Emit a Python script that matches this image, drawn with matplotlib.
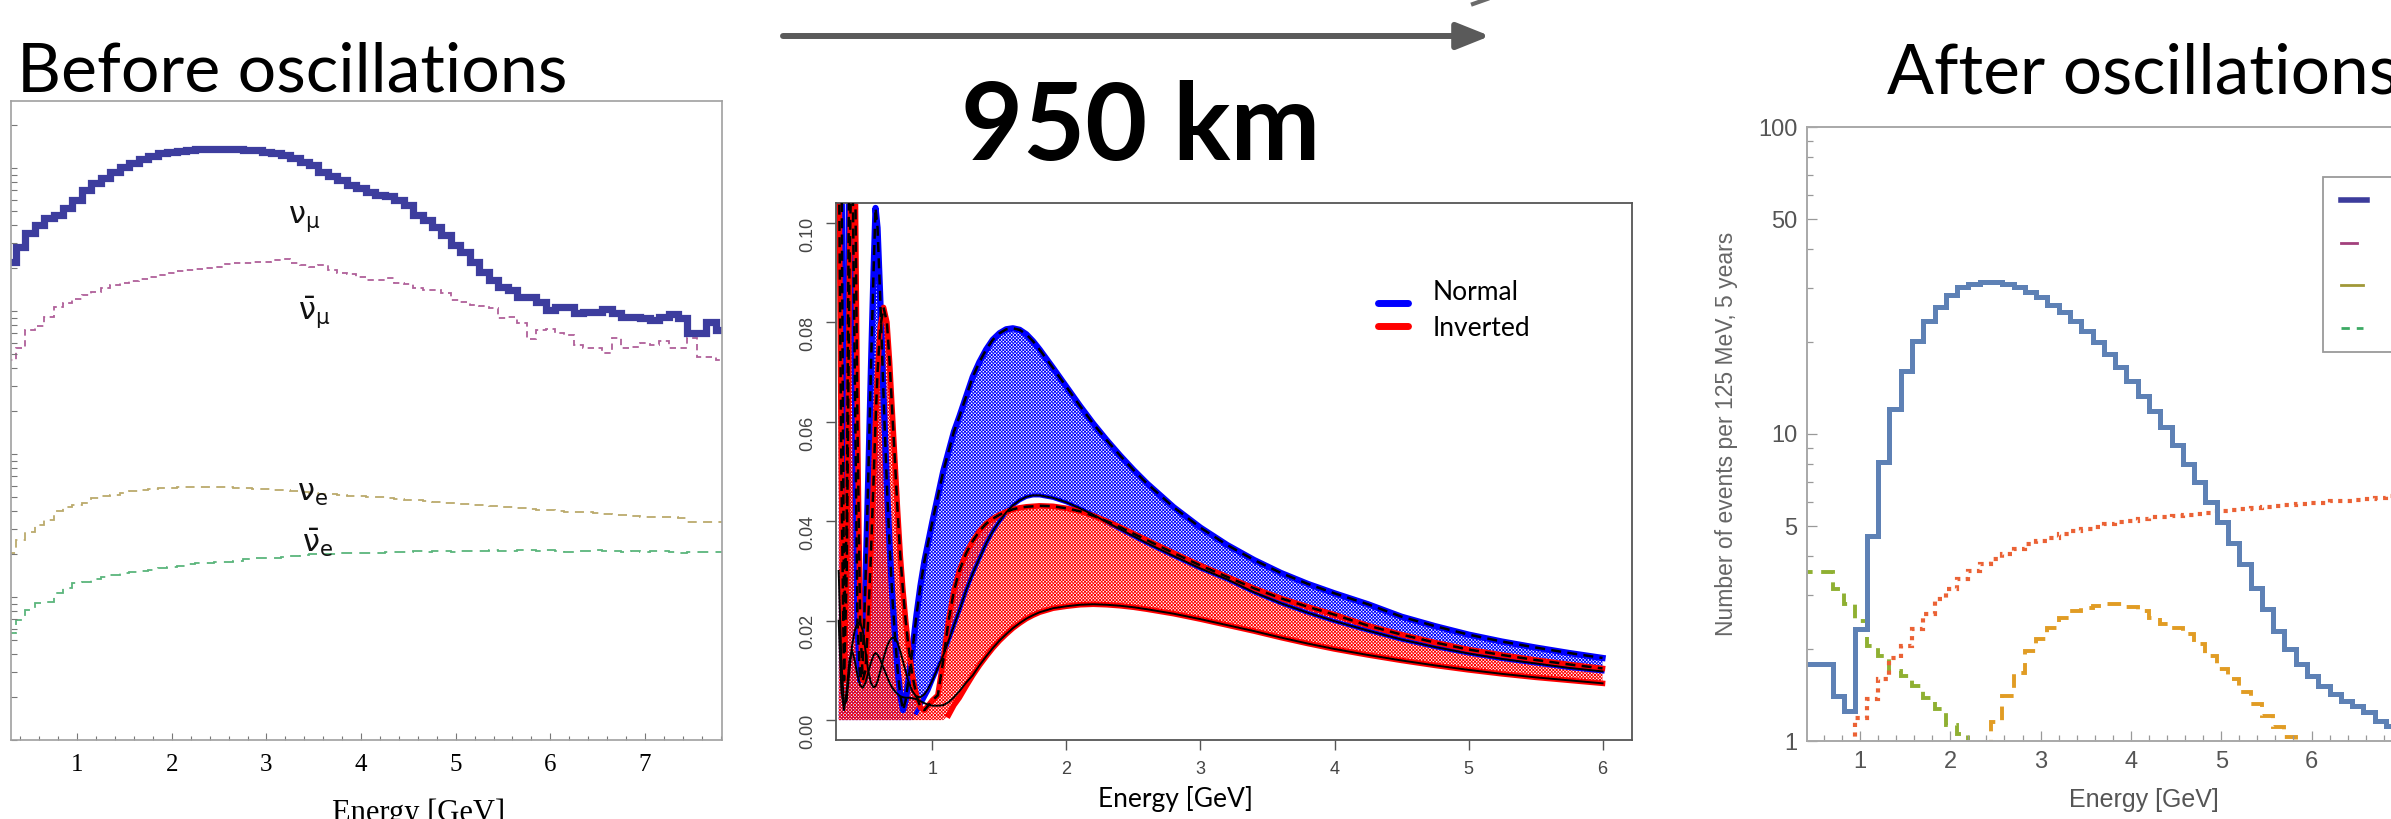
import numpy as np
import matplotlib.pyplot as plt
from matplotlib.lines import Line2D
from matplotlib.patches import Rectangle, FancyArrowPatch
from matplotlib.ticker import MultipleLocator, FixedLocator, NullFormatter, FormatStrFormatter

# ---------------- data ----------------
# left panel: unoscillated flux, log10 of (arbitrary units), bins of 0.1 GeV starting at 0.25
flux_edges_start, flux_bin = 0.25, 0.1
numu_log = [3.343, 3.448, 3.545, 3.601, 3.650, 3.671, 3.720, 3.776, 3.846, 3.895,
            3.930, 3.972, 4.007, 4.035, 4.063, 4.084, 4.105, 4.112, 4.119, 4.126,
            4.133, 4.133, 4.133, 4.133, 4.133, 4.126, 4.126, 4.112, 4.105, 4.091,
            4.070, 4.042, 4.021, 3.972, 3.944, 3.916, 3.881, 3.860, 3.832, 3.811,
            3.804, 3.776, 3.741, 3.671, 3.636, 3.587, 3.531, 3.462, 3.413, 3.343,
            3.273, 3.217, 3.168, 3.147, 3.098, 3.098, 3.063, 3.007, 3.028, 3.028,
            2.986, 2.993, 2.993, 3.014, 2.986, 2.958, 2.958, 2.951, 2.937, 2.958,
            2.979, 2.951, 2.846, 2.846, 2.923, 2.867]
numubar_log = [2.657, 2.741, 2.867, 2.895, 2.958, 3.028, 3.056, 3.084, 3.112, 3.133,
               3.161, 3.182, 3.196, 3.210, 3.224, 3.238, 3.252, 3.266, 3.280, 3.287,
               3.294, 3.301, 3.308, 3.329, 3.336, 3.336, 3.343, 3.343, 3.357, 3.364,
               3.336, 3.322, 3.308, 3.322, 3.287, 3.266, 3.259, 3.238, 3.217, 3.217,
               3.231, 3.196, 3.189, 3.161, 3.147, 3.147, 3.126, 3.077, 3.063, 3.042,
               3.035, 3.021, 2.951, 2.958, 2.916, 2.804, 2.867, 2.874, 2.846, 2.832,
               2.762, 2.741, 2.741, 2.706, 2.811, 2.741, 2.748, 2.776, 2.762, 2.790,
               2.741, 2.741, 2.811, 2.678, 2.678, 2.657]
nue_log = [1.308, 1.399, 1.455, 1.503, 1.538, 1.601, 1.629, 1.643, 1.657, 1.692,
           1.706, 1.713, 1.727, 1.741, 1.748, 1.755, 1.762, 1.762, 1.769, 1.769,
           1.769, 1.769, 1.769, 1.769, 1.762, 1.762, 1.755, 1.755, 1.748, 1.748,
           1.741, 1.734, 1.727, 1.720, 1.720, 1.713, 1.706, 1.706, 1.699, 1.699,
           1.692, 1.685, 1.678, 1.678, 1.671, 1.664, 1.657, 1.657, 1.650, 1.643,
           1.643, 1.636, 1.629, 1.629, 1.622, 1.615, 1.608, 1.608, 1.601, 1.594,
           1.594, 1.594, 1.587, 1.580, 1.573, 1.573, 1.566, 1.559, 1.559, 1.559,
           1.559, 1.552, 1.524, 1.524, 1.524, 1.524]
nuebar_log = [0.748, 0.839, 0.909, 0.958, 0.965, 1.028, 1.063, 1.098, 1.105, 1.126,
              1.140, 1.154, 1.168, 1.175, 1.182, 1.189, 1.203, 1.210, 1.217, 1.231,
              1.238, 1.238, 1.245, 1.245, 1.252, 1.266, 1.273, 1.273, 1.273, 1.280,
              1.287, 1.294, 1.301, 1.301, 1.301, 1.308, 1.308, 1.308, 1.308, 1.308,
              1.315, 1.315, 1.315, 1.322, 1.315, 1.322, 1.322, 1.315, 1.322, 1.322,
              1.322, 1.329, 1.322, 1.322, 1.329, 1.329, 1.322, 1.329, 1.322, 1.315,
              1.322, 1.322, 1.329, 1.322, 1.322, 1.315, 1.322, 1.315, 1.322, 1.322,
              1.315, 1.308, 1.315, 1.315, 1.315, 1.315]

# middle panel: appearance probability bands, 950 km
E_mid = [0.30, 0.32, 0.34, 0.36, 0.38, 0.40, 0.42, 0.44, 0.46, 0.48,
         0.50, 0.52, 0.54, 0.56, 0.575, 0.59, 0.61, 0.635, 0.66, 0.68,
         0.70, 0.72, 0.74, 0.76, 0.78, 0.80, 0.82, 0.85, 0.88, 0.91,
         0.94, 0.97, 1.00, 1.04, 1.08, 1.12, 1.16, 1.20, 1.25, 1.30,
         1.35, 1.40, 1.45, 1.50, 1.55, 1.60, 1.65, 1.70, 1.75, 1.80,
         1.90, 2.00, 2.10, 2.20, 2.30, 2.40, 2.50, 2.60, 2.80, 3.00,
         3.20, 3.40, 3.60, 3.80, 4.00, 4.25, 4.50, 4.75, 5.00, 5.25,
         5.50, 5.75, 6.00]
normal_hi = [0.12, 0.12, 0.02, 0.04, 0.12, 0.12, 0.07, 0.02, 0.008, 0.012,
             0.028, 0.048, 0.070, 0.090, 0.103, 0.099, 0.085, 0.065, 0.047, 0.035,
             0.025, 0.017, 0.010, 0.005, 0.002, 0.004, 0.008, 0.014, 0.021, 0.027,
             0.032, 0.036, 0.040, 0.045, 0.050, 0.054, 0.058, 0.061, 0.065, 0.069,
             0.072, 0.0745, 0.0765, 0.0778, 0.0786, 0.0788, 0.0785, 0.0776, 0.0762, 0.0745,
             0.0708, 0.0670, 0.0632, 0.0596, 0.0563, 0.0532, 0.0503, 0.0476, 0.0428, 0.0387,
             0.0352, 0.0322, 0.0296, 0.0274, 0.0255, 0.0233, 0.0208, 0.0189, 0.0172, 0.0158,
             0.0146, 0.0135, 0.0125]
normal_lo = [0.0, 0.0, 0.0, 0.0, 0.0, 0.0, 0.0, 0.0, 0.0, 0.0,
             0.0, 0.0, 0.0, 0.0, 0.0, 0.0, 0.0, 0.0, 0.0, 0.0,
             0.0, 0.0, 0.0, 0.0, 0.0, 0.0, 0.0, 0.0, 0.0015, 0.003,
             0.0045, 0.006, 0.008, 0.0105, 0.013, 0.016, 0.019, 0.022, 0.026, 0.0295,
             0.0325, 0.0355, 0.038, 0.040, 0.0418, 0.0432, 0.0442, 0.0449, 0.0452, 0.0452,
             0.0447, 0.0438, 0.0426, 0.0413, 0.0398, 0.0384, 0.0370, 0.0356, 0.0330, 0.0305,
             0.0283, 0.0257, 0.0235, 0.0216, 0.0199, 0.0180, 0.0162, 0.0147, 0.0134, 0.0123,
             0.0114, 0.0105, 0.0098]
inverted_hi = [0.12, 0.05, 0.008, 0.03, 0.09, 0.12, 0.12, 0.06, 0.02, 0.008,
               0.010, 0.020, 0.033, 0.048, 0.060, 0.070, 0.079, 0.083, 0.080, 0.072,
               0.062, 0.052, 0.042, 0.033, 0.026, 0.020, 0.015, 0.009, 0.005, 0.0025,
               0.002, 0.003, 0.004, 0.005, 0.012, 0.020, 0.026, 0.030, 0.0335, 0.036,
               0.038, 0.0395, 0.0405, 0.0413, 0.0419, 0.0424, 0.0427, 0.0429, 0.0430, 0.0431,
               0.0430, 0.0426, 0.0420, 0.0411, 0.0400, 0.0388, 0.0375, 0.0362, 0.0336, 0.0311,
               0.0288, 0.0265, 0.0245, 0.0228, 0.0212, 0.0190, 0.0172, 0.0156, 0.0142, 0.0131,
               0.0121, 0.0112, 0.0104]
inverted_lo = [0.0, 0.0, 0.0, 0.0, 0.0, 0.0, 0.0, 0.0, 0.0, 0.0,
               0.0, 0.0, 0.0, 0.0, 0.0, 0.0, 0.0, 0.0, 0.0, 0.0,
               0.0, 0.0, 0.0, 0.0, 0.0, 0.0, 0.0, 0.0, 0.0, 0.0,
               0.0, 0.0, 0.0, 0.0, 0.0, 0.001, 0.003, 0.0045, 0.0068, 0.0090,
               0.0110, 0.0128, 0.0145, 0.0160, 0.0173, 0.0185, 0.0195, 0.0204, 0.0211, 0.0217,
               0.0225, 0.0229, 0.0232, 0.0233, 0.0232, 0.0230, 0.0227, 0.0223, 0.0214, 0.0203,
               0.0191, 0.0179, 0.0166, 0.0154, 0.0143, 0.0131, 0.0120, 0.0110, 0.0101, 0.0093,
               0.0086, 0.0080, 0.0074]
# black solid curves below ~1 GeV (they join the lower edges above that)
normal_solid_low = [0.030, 0.012, 0.003, 0.004, 0.010, 0.015, 0.018, 0.0195, 0.0196, 0.018,
                    0.014, 0.010, 0.0075, 0.0066, 0.0068, 0.0078, 0.0098, 0.0125, 0.0148, 0.0160,
                    0.0166, 0.0165, 0.0155, 0.0138, 0.0118, 0.0098, 0.0078, 0.0058, 0.0047, 0.0046,
                    0.0052, 0.0064, 0.008]
inverted_solid_low = [0.020, 0.006, 0.002, 0.006, 0.012, 0.014, 0.012, 0.009, 0.007, 0.0065,
                      0.0075, 0.0095, 0.0115, 0.013, 0.0135, 0.0132, 0.0122, 0.0105, 0.0088, 0.0075,
                      0.0065, 0.0058, 0.0052, 0.0048, 0.0046, 0.0045, 0.0045, 0.0044, 0.0042, 0.0038,
                      0.0034, 0.0031, 0.0029, 0.0029, 0.0030, 0.0036, 0.0046, 0.0058, 0.0075]

# right panel: events per 125 MeV, 5 years; bins start at 0.325 GeV
events_edges_start, events_bin = 0.325, 0.125
ev_blue = [1.78, 1.78, 1.78, 1.40, 1.25, 2.31, 4.66, 8.08, 12.1, 16.1,
           20.1, 23.3, 25.9, 28.3, 30.1, 30.8, 31.2, 31.2, 30.8, 30.1,
           29.0, 27.9, 26.4, 24.9, 23.3, 21.7, 19.9, 18.2, 16.5, 14.9,
           13.3, 11.9, 10.5, 9.2, 8.0, 7.0, 6.0, 5.15, 4.43, 3.77,
           3.16, 2.69, 2.28, 1.99, 1.78, 1.63, 1.51, 1.42, 1.35, 1.30,
           1.24, 1.16, 1.12, 1.08, 1.05, 1.02, 1.0]
ev_red = [0.5, 0.5, 0.5, 0.6, 0.85, 1.19, 1.37, 1.59, 1.87, 2.04,
          2.31, 2.59, 2.90, 3.12, 3.37, 3.58, 3.77, 3.91, 4.06, 4.22,
          4.38, 4.49, 4.60, 4.72, 4.84, 4.90, 4.98, 5.09, 5.15, 5.22,
          5.28, 5.35, 5.37, 5.41, 5.45, 5.48, 5.55, 5.60, 5.65, 5.70,
          5.74, 5.79, 5.83, 5.88, 5.91, 5.95, 5.98, 6.03, 6.06, 6.11,
          6.15, 6.20, 6.26, 6.30, 6.33, 6.36, 6.39]
ev_green = [3.54, 3.54, 3.54, 3.12, 2.79, 2.46, 2.04, 1.89, 1.69, 1.63,
            1.51, 1.38, 1.27, 1.13, 1.05, 0.9, 0.8, 0.8, 0.8, 0.8,
            0.8, 0.8, 0.8, 0.8, 0.8, 0.8, 0.8, 0.8, 0.8, 0.8,
            0.8, 0.8, 0.8, 0.8, 0.8, 0.8, 0.8, 0.8, 0.8, 0.8,
            0.8, 0.8, 0.8, 0.8, 0.8, 0.8, 0.8, 0.8, 0.8, 0.8,
            0.8, 0.8, 0.8, 0.8, 0.8, 0.8, 0.8]
ev_orange = [0.5, 0.5, 0.5, 0.5, 0.5, 0.5, 0.5, 0.5, 0.5, 0.5,
             0.5, 0.5, 0.5, 0.5, 0.5, 0.5, 0.5, 1.15, 1.40, 1.67,
             1.97, 2.15, 2.34, 2.52, 2.65, 2.72, 2.76, 2.79, 2.79, 2.73,
             2.65, 2.52, 2.40, 2.34, 2.23, 2.07, 1.89, 1.71, 1.59, 1.44,
             1.32, 1.21, 1.11, 1.03, 0.9, 0.8, 0.8, 0.8, 0.8, 0.8,
             0.8, 0.8, 0.8, 0.8, 0.8, 0.8, 0.8]

# ---------------- layout helpers (pixels of the 2391x819 canvas) ----------------
W, H = 2391, 819


def fx(x):
    return x / W


def fy(y):
    return 1 - y / H


def box(x0, y0, x1, y1):
    return [fx(x0), fy(y1), (x1 - x0) / W, (y1 - y0) / H]


CAL = ['Lato', 'DejaVu Sans']
plt.rcParams['hatch.linewidth'] = 0.6
plt.rcParams['mathtext.default'] = 'regular'

fig = plt.figure(figsize=(W / 100, H / 100), dpi=100)

# ---------------- left: before oscillations ----------------
axL = fig.add_axes(box(11, 101, 722, 740))
axL.set_yscale('log')
edgesL = flux_edges_start + flux_bin * np.arange(len(numu_log) + 1)
axL.stairs(10 ** np.array(nuebar_log), edgesL, baseline=None, color='#5BB57C', lw=1.3,
           linestyle=(0, (6, 4)))
axL.stairs(10 ** np.array(nue_log), edgesL, baseline=None, color='#BBAA6C', lw=1.3,
           linestyle=(0, (5, 3.5)))
axL.stairs(10 ** np.array(numubar_log), edgesL, baseline=None, color='#B0609A', lw=1.3,
           linestyle=(0, (3.5, 2.5)))
axL.stairs(10 ** np.array(numu_log), edgesL, baseline=None, color='#3D3D9E', lw=5.2)
axL.set_xlim(0.3, 7.815)
axL.set_ylim(1, 10 ** 4.469)
axL.xaxis.set_major_locator(FixedLocator(range(1, 8)))
axL.xaxis.set_minor_locator(MultipleLocator(0.2))
axL.tick_params(axis='both', which='both', direction='in', color='#777777', width=0.8)
axL.tick_params(axis='x', which='major', length=5, labelsize=18, pad=10,
                labelfontfamily='Liberation Serif')
axL.tick_params(axis='x', which='minor', length=3)
axL.tick_params(axis='y', which='both', length=4, labelleft=False)
axL.yaxis.set_minor_formatter(NullFormatter())
for s in axL.spines.values():
    s.set_color('#A0A0A0')
    s.set_linewidth(1.2)

txt_nu = dict(fontsize=22, ha='left', va='baseline', color='#111111')
fig.text(fx(288), fy(223), r'$\nu_\mu$', **txt_nu)
fig.text(fx(298), fy(320), r'$\bar{\nu}_\mu$', **txt_nu)
fig.text(fx(297), fy(501), r'$\nu_e$', **txt_nu)
fig.text(fx(302), fy(552), r'$\bar{\nu}_e$', **txt_nu)
fig.text(fx(419), fy(798), 'Energy [GeV]', ha='center', va='top', fontsize=22,
         family='Liberation Serif')

# ---------------- middle: probability bands ----------------
axM = fig.add_axes(box(836, 203, 1632, 740))
E = np.array(E_mid)
axM.fill_between(E, normal_lo, normal_hi, facecolor='none', edgecolor='#0000FF',
                 hatch='x' * 10, linewidth=0, zorder=1)
axM.fill_between(E, inverted_lo, inverted_hi, facecolor='none', edgecolor='#FF0000',
                 hatch='x' * 10, linewidth=0, zorder=1.5)
axM.plot(E, normal_hi, color='#0000FF', lw=4.5, zorder=2)
axM.plot(E[28:], normal_lo[28:], color='#0000FF', lw=3, zorder=2)
axM.plot(E, inverted_hi, color='#FF0000', lw=4, zorder=2.2)
axM.plot(E[35:], inverted_lo[35:], color='#FF0000', lw=4, zorder=2.2)
normal_solid = normal_solid_low + normal_lo[len(normal_solid_low):]
inverted_solid = inverted_solid_low + inverted_lo[len(inverted_solid_low):]
axM.plot(E, normal_hi, color='black', lw=1.8, linestyle=(0, (4, 2.5)), zorder=3)
axM.plot(E, inverted_hi, color='black', lw=1.8, linestyle=(0, (4, 2.5)), zorder=3)
axM.plot(E, normal_solid, color='black', lw=1.4, zorder=3)
axM.plot(E, inverted_solid, color='black', lw=1.4, zorder=3)
axM.set_xlim(0.28, 6.22)
axM.set_ylim(-0.004, 0.104)
axM.set_xticks(range(1, 7))
axM.set_yticks([0.0, 0.02, 0.04, 0.06, 0.08, 0.10])
axM.yaxis.set_major_formatter(FormatStrFormatter('%.2f'))
axM.tick_params(axis='both', direction='out', length=7, width=1, color='#555555',
                labelcolor='#444444', labelsize=13, labelfontfamily='Liberation Sans')
axM.tick_params(axis='y', labelrotation=90, pad=7)
axM.tick_params(axis='x', pad=8)
for s in axM.spines.values():
    s.set_color('#555555')
    s.set_linewidth(1.3)

fig.add_artist(Line2D([fx(1378), fx(1408)], [fy(303), fy(303)], color='#0000FF', lw=5,
                      solid_capstyle='round'))
fig.add_artist(Line2D([fx(1378), fx(1408)], [fy(326), fy(326)], color='#FF0000', lw=5,
                      solid_capstyle='round'))
fig.text(fx(1433), fy(293), 'Normal', ha='left', va='center', fontsize=19, family=CAL)
fig.text(fx(1433), fy(328), 'Inverted', ha='left', va='center', fontsize=19, family=CAL)
fig.text(fx(1176), fy(799), 'Energy [GeV]', ha='center', va='center', fontsize=19, family=CAL)

# ---------------- right: after oscillations ----------------
x_right_end = 7.5
axR = fig.add_axes(box(1807, 127, 1807 + (x_right_end - 0.413) * 90.3, 741))
axR.set_yscale('log')
edgesR = events_edges_start + events_bin * np.arange(len(ev_blue) + 1)
axR.stairs(ev_orange, edgesR, baseline=None, color='#E19C24', lw=2.8,
           linestyle=(0, (3.5, 2.2)))
axR.stairs(ev_green, edgesR, baseline=None, color='#8FB032', lw=2.8,
           linestyle=(0, (3.5, 2.2)))
axR.stairs(ev_red, edgesR, baseline=None, color='#EB6235', lw=3.0,
           linestyle=(0, (1, 1.3)))
axR.stairs(ev_blue, edgesR, baseline=None, color='#5E81B5', lw=3.6)
axR.set_xlim(0.413, x_right_end)
axR.set_ylim(1, 100)
axR.set_xticks(range(1, 8))
axR.xaxis.set_minor_locator(MultipleLocator(0.2))
axR.yaxis.set_major_locator(FixedLocator([1, 5, 10, 50, 100]))
axR.set_yticklabels(['1', '5', '10', '50', '100'])
axR.yaxis.set_minor_locator(FixedLocator([2, 3, 4, 6, 7, 8, 9, 20, 30, 40, 60, 70, 80, 90]))
axR.yaxis.set_minor_formatter(NullFormatter())
axR.tick_params(axis='both', which='both', direction='in', color='#999999', width=0.9)
axR.tick_params(axis='both', which='major', length=7, labelsize=17, labelcolor='#555555',
                labelfontfamily='Liberation Sans')
axR.tick_params(axis='both', which='minor', length=4)
axR.tick_params(axis='x', pad=7)
axR.tick_params(axis='y', pad=7)
for s in axR.spines.values():
    s.set_color('#A8A8A8')
    s.set_linewidth(1.4)

fig.text(fx(1726), fy(434), 'Number of events per 125 MeV, 5 years', rotation=90,
         ha='center', va='center', fontsize=16.5, color='#666666', family='Liberation Sans')
fig.text(fx(2144), fy(800), 'Energy [GeV]', ha='center', va='center', fontsize=18,
         color='#555555', family='Liberation Sans')

# legend frame (labels fall outside the slide crop)
fig.add_artist(Rectangle((fx(2323), fy(352)), (2450 - 2323) / W, (352 - 177) / H,
                         transform=fig.transFigure, facecolor='white', edgecolor='#9A9A9A',
                         lw=1.3, zorder=5))
leg_rows = [(200, 2367, '#3C3C9C', 4.0, '-'),
            (243, 2357, '#A2407C', 2.0, '-'),
            (285, 2363, '#A09838', 2.0, '-'),
            (328, 2363, '#3CAA64', 2.0, (0, (3, 2.5)))]
for yy, xe, col, lw, ls in leg_rows:
    fig.add_artist(Line2D([fx(2341), fx(xe)], [fy(yy), fy(yy)], color=col, lw=lw,
                          linestyle=ls, zorder=6))

# ---------------- titles and arrow ----------------
fig.text(fx(17), fy(91), 'Before oscillations', ha='left', va='baseline', fontsize=49,
         family=CAL)
fig.text(fx(1887), fy(94), 'After oscillations', ha='left', va='baseline', fontsize=50,
         family=CAL)
fig.text(fx(1141), fy(160), '950 km', ha='center', va='baseline', fontsize=77,
         fontweight='bold', family=CAL)

fig.add_artist(FancyArrowPatch((fx(783), fy(36)), (fx(1490), fy(36)),
                               transform=fig.transFigure,
                               arrowstyle='-|>,head_length=1.0,head_width=0.4',
                               mutation_scale=20, lw=4.3, color='#5A5A5A',
                               shrinkA=0, shrinkB=0))
fig.add_artist(Line2D([fx(1473), fx(1490)], [fy(4), fy(-2)], color='#6A6A6A', lw=3))

fig.savefig('out.png', dpi=100)
